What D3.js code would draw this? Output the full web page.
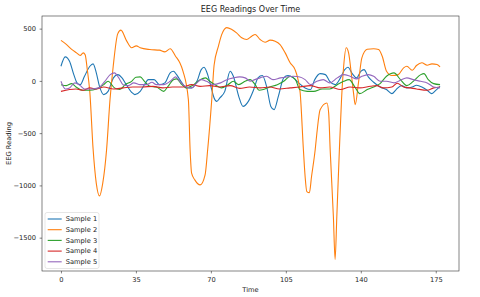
<!DOCTYPE html>
<html>
<head>
<meta charset="utf-8">
<script src="https://cdn.jsdelivr.net/npm/d3@7"></script>
<style>
  body { margin: 0; background: #fff; }
  text { font-family: "DejaVu Sans", sans-serif; fill: #222; }
</style>
</head>
<body>
<div id="chart"></div>
<script>
// Series names and colours (matplotlib tab10)
const seriesNames = ["Sample 1", "Sample 2", "Sample 3", "Sample 4", "Sample 5"];
const seriesColors = ["#1f77b4", "#ff7f0e", "#2ca02c", "#d62728", "#9467bd"];

// Readings as [time, value]
const sample1 = [[0,140],[2,230],[4,188],[6,60],[7.5,-19],[9,-36],[11,44],[13.5,140],[15,163],[16.5,77],[18,-52],[20,-131],[22,-100],[24.5,29],[26.5,60],[28.5,29],[30.5,-36],[33,-109],[34.5,-131],[37,-100],[39,-36],[40.8,12],[43.5,12],[46,-36],[48.5,-19],[51,77],[52.5,92],[54,60],[56.5,-19],[58.5,-67],[61,-67],[63.5,-4],[65.5,108],[66.8,130],[68.5,60],[70,-52],[71.5,-163],[72.7,-196],[74.2,-163],[76.5,-100],[79,92],[80.5,44],[83,-148],[85,-244],[87.5,-196],[90,-83],[92,29],[94,51],[96,-52],[98,-244],[99.5,-275],[101.5,-148],[104,29],[106,51],[108.5,29],[111,-19],[114,-67],[116.5,-83],[118.5,12],[121,70],[123.5,60],[125.5,-4],[128,-36],[130.5,29],[132.5,108],[134,131],[136,70],[138,29],[140,92],[141.5,108],[143.5,38],[146,-13],[149,-58],[152,-83],[154.5,-122],[156.5,-83],[159,-45],[161.5,-67],[164,-58],[166,-42],[168.5,-58],[171,-90],[173,-122],[175,-90],[177,-52]];
const sample2 = [[0,388],[2.5,350],[5,302],[7.3,268],[9,243],[10.4,268],[11.3,250],[12.3,108],[13.5,-112],[15,-650],[16.5,-980],[18,-1100],[19.5,-980],[21.3,-659],[22.9,-180],[24.4,140],[26.5,450],[28,486],[30.6,385],[33,317],[35.2,335],[37,317],[41.5,300],[46,294],[48.5,278],[51,307],[53.5,236],[55.5,173],[57,92],[59.5,-180],[60.3,-659],[61,-883],[62.5,-947],[65,-995],[67.3,-899],[68.5,-659],[70.4,-180],[71.5,150],[73.5,330],[75,440],[77.4,510],[79.6,495],[82,460],[84.4,412],[86.7,396],[89.1,428],[90.7,444],[93,396],[95.3,370],[97.7,390],[100,380],[102.3,348],[104.7,268],[107,173],[109.3,108],[110.5,30],[111.7,-115],[113.2,-659],[114,-915],[114.8,-1059],[116,-1069],[117,-915],[118.7,-659],[119.5,-499],[121,-275],[124.2,-211],[125,-307],[125.7,-659],[127.2,-1299],[128,-1708],[128.8,-1299],[130,-659],[131,-180],[132,140],[133.2,317],[134.3,268],[135.7,44],[136.6,-115],[137.4,-227],[138.9,-19],[140.5,220],[143,302],[146,307],[148.3,300],[150,236],[152,92],[154.5,51],[157.5,60],[160,125],[161.5,140],[164,102],[166,147],[168.5,173],[171,150],[173.2,163],[175.6,156],[177,134]];
const sample3 = [[0,-36],[2.5,-45],[5,-26],[7,-58],[10,-90],[13.5,-90],[16.5,-77],[20,-36],[22,-4],[25,-67],[27.5,-83],[30,-36],[33,-4],[35,35],[37,38],[39,-4],[41.5,-52],[44.5,-58],[48,-100],[50,-52],[52.5,12],[54,19],[56.5,-36],[58.5,-67],[62,-36],[65,12],[67.5,29],[69.5,-4],[72.5,-45],[75,-67],[78,-36],[80.5,-4],[83,-36],[86,-4],[88.3,12],[90.7,-36],[92.5,-90],[94.5,-83],[97.5,-58],[101,-36],[104,-4],[107,44],[109.5,12],[111.5,-83],[115,-100],[118,-100],[122,-77],[125.5,-77],[129,-36],[132,-4],[134.5,12],[137.5,-67],[139.5,-122],[143,-83],[146,-58],[149,-26],[152,44],[155.5,77],[158.5,12],[161.5,-45],[164.5,-4],[168,60],[169.5,70],[171.5,12],[174,-26],[177,-36]];
const sample4 = [[0,-100],[4,-83],[7,-77],[10.5,-90],[13.5,-67],[16.5,-77],[20,-58],[24.5,-77],[29,-67],[33.5,-58],[38,-58],[43,-52],[47.5,-67],[52,-58],[57,-58],[61,-36],[65,-52],[69.5,-45],[74,-58],[79,-45],[83.5,-72],[88,-58],[93,-67],[97.5,-58],[102,-77],[107,-67],[111.5,-58],[116.5,-45],[121,-67],[125.5,-58],[130.5,-83],[135,-58],[139.5,-67],[144.5,-52],[147.5,-45],[150.5,-67],[154.5,-58],[157,-22],[160,-58],[163,-67],[166,-77],[171,-90],[174,-67],[177,-58]];
const sample5 = [[0,-4],[2,-77],[4,-67],[6.5,-19],[9,-45],[11,-77],[14.5,-77],[17.5,-67],[20.5,-4],[23,60],[25,77],[27,29],[29,-36],[31.5,-45],[34,-19],[37,-36],[40,-36],[42.5,-13],[44.5,-36],[48,-36],[51,-4],[53.5,38],[55.5,-4],[58.5,-58],[61,-67],[63.5,-19],[65.5,12],[68,-4],[71,-36],[74.5,-19],[77.5,12],[80.5,29],[83.5,38],[86,29],[88.5,-4],[90.5,12],[93,29],[96,44],[99,12],[102.5,29],[105.5,38],[108.5,44],[111.5,38],[114,12],[116.5,-36],[119.5,-4],[122.5,12],[125.5,-19],[129,29],[132,60],[135,44],[138,19],[140.5,44],[143.5,60],[146,44],[149,-4],[152,-4],[155.5,-19],[158.5,6],[161.5,29],[164.5,12],[168,-4],[171,-19],[174,-58],[177,-67]];

// Tick labels
const xTicks = [0, 35, 70, 105, 140, 175];
const yTicks = [-1500, -1000, -500, 0, 500];

const allSeries = [sample1, sample2, sample3, sample4, sample5];

// Dimensions and margins
const margin = { top: 16, right: 21, bottom: 26, left: 42 },
    width = 480 - margin.left - margin.right,
    height = 297 - margin.top - margin.bottom;

const svg = d3.select("#chart")
    .append("svg")
    .attr("width", 480)
    .attr("height", 297);

const chartSvg = svg.append("g")
    .attr("transform", `translate(${margin.left}, ${margin.top})`);

// Scales with 5% padding like matplotlib
const allPoints = allSeries.flat();
const xMin = 0, xMax = 177;
const yExt = d3.extent(allPoints, d => d[1]);
const xPad = (xMax - xMin) * 0.05, yPad = (yExt[1] - yExt[0]) * 0.05;
const x = d3.scaleLinear().domain([xMin - xPad, xMax + xPad]).range([0, width]);
const y = d3.scaleLinear().domain([yExt[0] - yPad, yExt[1] + yPad]).range([height, 0]);

const fmt = d => d < 0 ? "\u2212" + Math.abs(d) : String(d);

// Axes
const xAxis = chartSvg.append("g")
    .attr("transform", `translate(0,${height})`)
    .call(d3.axisBottom(x).tickValues(xTicks).tickSize(2.4).tickPadding(3.5));
const yAxis = chartSvg.append("g")
    .call(d3.axisLeft(y).tickValues(yTicks).tickFormat(fmt).tickSize(2.4).tickPadding(3.6));
[xAxis, yAxis].forEach(a => {
    a.select(".domain").remove();
    a.selectAll("line").attr("stroke", "#333").attr("stroke-width", 0.6);
    a.selectAll("text").style("font-size", "6.7px").style("font-family", "DejaVu Sans").attr("fill", "#222");
});

// Lines
const line = d3.line()
    .x(d => x(d[0]))
    .y(d => y(d[1]))
    .curve(d3.curveMonotoneX);

chartSvg.selectAll(".series")
    .data(allSeries)
    .enter()
    .append("path")
        .attr("class", "series")
        .attr("fill", "none")
        .attr("stroke", (d, i) => seriesColors[i])
        .attr("stroke-width", 1.1)
        .attr("stroke-linejoin", "round")
        .attr("d", line);

// Frame
chartSvg.append("rect")
    .attr("width", width)
    .attr("height", height)
    .attr("fill", "none")
    .attr("stroke", "#333")
    .attr("stroke-width", 0.6);

// Title and axis labels
svg.append("text")
    .attr("x", margin.left + width / 2)
    .attr("y", 12)
    .attr("text-anchor", "middle")
    .style("font-size", "8px")
    .text("EEG Readings Over Time");

svg.append("text")
    .attr("x", margin.left + width / 2)
    .attr("y", 291.5)
    .attr("text-anchor", "middle")
    .style("font-size", "6.7px")
    .text("Time");

svg.append("text")
    .attr("transform", `translate(10.5, ${margin.top + height / 2}) rotate(-90)`)
    .attr("text-anchor", "middle")
    .style("font-size", "6.7px")
    .text("EEG Reading");

// Legend
const legend = chartSvg.append("g")
    .attr("transform", `translate(3, ${height - 58.5})`);
legend.append("rect")
    .attr("width", 54)
    .attr("height", 56)
    .attr("rx", 2)
    .attr("fill", "#fff")
    .attr("fill-opacity", 0.8)
    .attr("stroke", "#ccc")
    .attr("stroke-width", 0.5);
seriesNames.forEach((name, i) => {
    const row = legend.append("g").attr("transform", `translate(0, ${6.5 + i * 10.7})`);
    row.append("line")
        .attr("x1", 2.7).attr("x2", 16.7)
        .attr("stroke", seriesColors[i])
        .attr("stroke-width", 1.1);
    row.append("text")
        .attr("x", 20.7)
        .attr("dy", "0.35em")
        .style("font-size", "6.7px")
        .text(name);
});
</script>
</body>
</html>
